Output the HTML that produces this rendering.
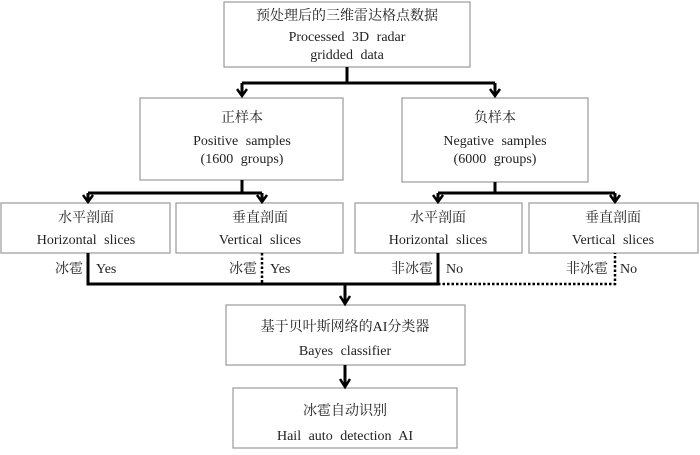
<!DOCTYPE html>
<html><head><meta charset="utf-8"><style>
body{margin:0;background:#fff}
svg text{font-family:"Liberation Serif","Noto Serif CJK SC",serif;font-size:14px;fill:#222;text-anchor:middle;word-spacing:4px}
</style></head><body>
<svg width="700" height="450" viewBox="0 0 700 450" xmlns="http://www.w3.org/2000/svg">
<g fill="#fff" stroke="#999" stroke-width="1.2">
<rect x="224" y="2" width="246" height="65"/>
<rect x="140" y="98" width="203" height="82"/>
<rect x="402" y="98" width="186" height="84"/>
<rect x="1" y="203" width="169" height="50"/>
<rect x="176" y="203" width="167" height="50"/>
<rect x="355" y="203" width="167" height="50"/>
<rect x="529" y="203" width="169" height="50"/>
<rect x="226" y="305" width="239" height="60"/>
<rect x="233" y="388" width="224" height="60"/>
</g>
<g stroke="#000" stroke-width="3" fill="none">
<path d="M347 67V83M242 83H495M242 83V96M495 83V96"/>
<path d="M242 180V193M88 193H262M88 193V201M262 193V201"/>
<path d="M495 182V193M438 193H615M438 193V201M615 193V201"/>
<path d="M88 253V284H438V253"/>
<path d="M345 284V303M345 365V386"/>
</g>
<g stroke="#000" stroke-width="2.5" fill="none" stroke-linejoin="miter">
<path d="M237 89L242 96L247 89"/>
<path d="M490 89L495 96L500 89"/>
<path d="M83 195L88 202L93 195"/>
<path d="M257 195L262 202L267 195"/>
<path d="M433 195L438 202L443 195"/>
<path d="M610 195L615 202L620 195"/>
<path d="M340 296L345 304L350 296"/>
<path d="M340 379L345 387L350 379"/>
</g>
<g stroke="#000" stroke-width="2.5" stroke-dasharray="2.5,2" fill="none">
<path d="M262 253V284"/>
<path d="M438 284H615V253"/>
</g>
<text x="347" y="20">预处理后的三维雷达格点数据</text>
<text x="347" y="41">Processed 3D radar</text>
<text x="347" y="59">gridded data</text>
<text x="242" y="122">正样本</text>
<text x="242" y="145">Positive samples</text>
<text x="242" y="163">(1600 groups)</text>
<text x="495" y="122">负样本</text>
<text x="495" y="145">Negative samples</text>
<text x="495" y="163">(6000 groups)</text>
<text x="86" y="222">水平剖面</text>
<text x="86" y="244">Horizontal slices</text>
<text x="260" y="222">垂直剖面</text>
<text x="260" y="244">Vertical slices</text>
<text x="438" y="222">水平剖面</text>
<text x="438" y="244">Horizontal slices</text>
<text x="613" y="222">垂直剖面</text>
<text x="613" y="244">Vertical slices</text>
<text x="83" y="273" style="text-anchor:end">冰雹</text>
<text x="257" y="273" style="text-anchor:end">冰雹</text>
<text x="433" y="273" style="text-anchor:end">非冰雹</text>
<text x="608" y="273" style="text-anchor:end">非冰雹</text>
<text x="96" y="273" style="text-anchor:start">Yes</text>
<text x="270" y="273" style="text-anchor:start">Yes</text>
<text x="446" y="273" style="text-anchor:start">No</text>
<text x="620" y="273" style="text-anchor:start">No</text>
<text x="345" y="331">基于贝叶斯网络的AI分类器</text>
<text x="345" y="355">Bayes classifier</text>
<text x="345" y="415">冰雹自动识别</text>
<text x="345" y="440">Hail auto detection AI</text>
</svg>
</body></html>
